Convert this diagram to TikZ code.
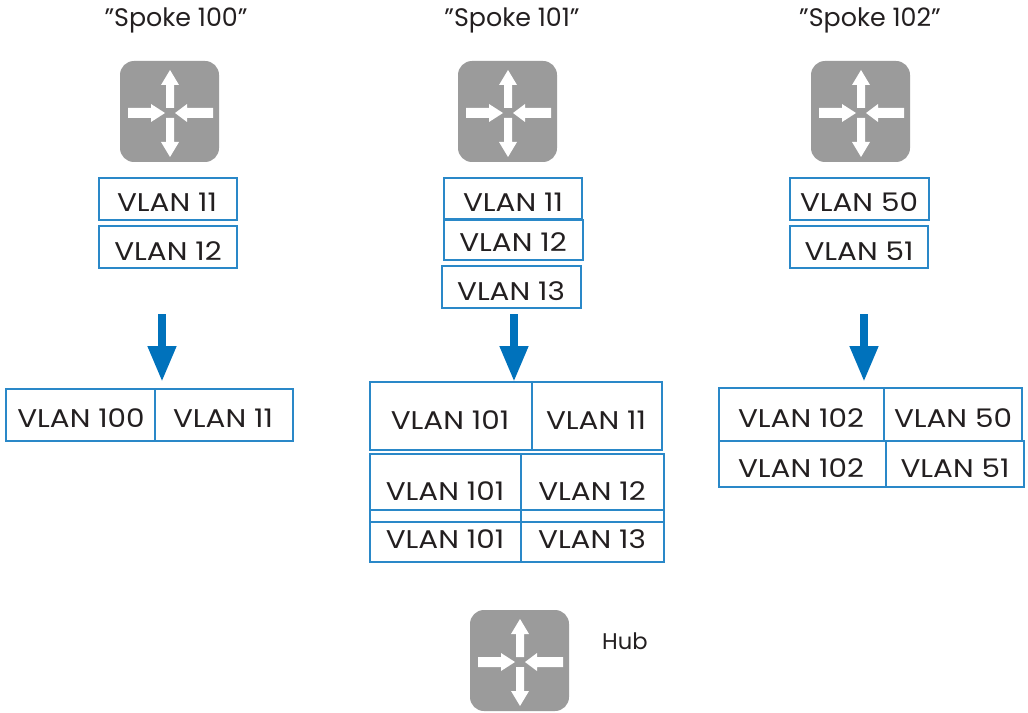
\documentclass[tikz,border=0pt]{standalone}
\usepackage{fontspec}
\setmainfont{Poppins}
\newfontfamily\widefont[FakeStretch=1.15]{Poppins}
\usetikzlibrary{arrows.meta}
\definecolor{boxblue}{HTML}{2A88C8}
\definecolor{arrowblue}{HTML}{0072BC}
\definecolor{icongray}{HTML}{9B9B9B}
\definecolor{inkdark}{HTML}{231F20}
\tikzset{
  x=0.75pt,y=-0.75pt,
  vtext/.style={anchor=base,inner sep=0pt,text=inkdark,font=\widefont\fontsize{19.2pt}{20pt}\selectfont},
  ttext/.style={anchor=base,inner sep=0pt,text=inkdark,font=\fontsize{19pt}{22pt}\selectfont},
  vlanbox/.style={draw=boxblue,line width=1.1pt},
  flow/.style={draw=arrowblue,line width=6.3pt,-{Triangle[width=20pt,length=27pt]}},
  router/.pic={
    \fill[icongray,rounded corners=10.5pt] (-50,-52) rectangle (49,49);
    \fill[white] (-4,-5) -- (-4,-28) -- (-9,-28) -- (0,-43) -- (9,-28) -- (4,-28) -- (4,-5) -- cycle;
    \fill[white] (-4,5) -- (-4,29) -- (-9,29) -- (0,44) -- (9,29) -- (4,29) -- (4,5) -- cycle;
    \fill[white] (-42,-5) -- (-19,-5) -- (-19,-9) -- (-5,0) -- (-19,9) -- (-19,5) -- (-42,5) -- cycle;
    \fill[white] (43,-5) -- (17,-5) -- (17,-9) -- (5,0) -- (17,9) -- (17,5) -- (43,5) -- cycle;
  }
}
\newcommand{\vb}[8]{%
  \draw[vlanbox] (#2,#3) rectangle (#4,#5);
  \node[vtext] (#1) at (#6,#7) {#8};}
\begin{document}
\begin{tikzpicture}
\useasboundingbox (0,0) rectangle (1028,713);
% titles
\node[ttext] (t100) at (176,27) {”Spoke 100”};
\node[ttext] (t101) at (512,27) {”Spoke 101”};
\node[ttext] (t102) at (870,27) {”Spoke 102”};
\node[ttext,font=\fontsize{17pt}{20pt}\selectfont] (hubl) at (625,649) {Hub};
% routers
\pic at (170,113) {router};
\pic at (508,113) {router};
\pic at (861,113) {router};
\pic at (520,662) {router};
% spoke 100
\vb{a1}{99}{178}{237}{220}{167}{212}{VLAN 11}
\vb{a2}{99}{226}{237}{268}{168}{260}{VLAN 12}
\vb{a3}{6}{389}{155}{441}{81}{427}{VLAN 100}
\vb{a4}{155}{389}{293}{441}{223}{427}{VLAN 11}
% spoke 101
\vb{b1}{444}{178}{582}{218.5}{513}{212}{VLAN 11}
\vb{b2}{444}{220}{583}{260}{513}{252}{VLAN 12}
\vb{b3}{442}{266}{581}{308}{511}{300}{VLAN 13}
\vb{b4}{370}{382}{532}{450}{450}{429}{VLAN 101}
\vb{b5}{532}{382}{662}{450}{596}{429}{VLAN 11}
\vb{b6}{370}{454}{521}{522}{445}{500}{VLAN 101}
\vb{b7}{521}{454}{664}{522}{592}{500}{VLAN 12}
\vb{b8}{370}{510}{521}{562}{445}{548}{VLAN 101}
\vb{b9}{521}{510}{664}{562}{592}{548}{VLAN 13}
% spoke 102
\vb{c1}{790}{178}{929}{220}{859}{212}{VLAN 50}
\vb{c2}{790}{226}{928}{268}{859}{260}{VLAN 51}
\vb{c3}{719}{388}{884}{441}{801}{427}{VLAN 102}
\vb{c4}{884}{388}{1022}{441}{953}{427}{VLAN 50}
\vb{c5}{719}{441}{886}{487}{801}{477}{VLAN 102}
\vb{c6}{886}{441}{1024}{487}{955}{477}{VLAN 51}
% flows
\coordinate (f1a) at (162,314); \coordinate (f1b) at (162,382);
\coordinate (f2a) at (514,314); \coordinate (f2b) at (514,382);
\coordinate (f3a) at (864,314); \coordinate (f3b) at (864,382);
\draw[flow] (f1a) -- (f1b);
\draw[flow] (f2a) -- (f2b);
\draw[flow] (f3a) -- (f3b);
\end{tikzpicture}
\end{document}
